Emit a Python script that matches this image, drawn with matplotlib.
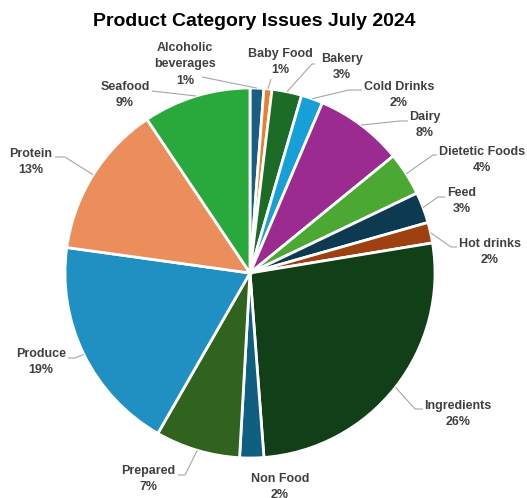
import numpy as np
import matplotlib
matplotlib.use('Agg')
import matplotlib.pyplot as plt

# issue share per product category, July 2024 (percent)
categories = ['Alcoholic\nbeverages', 'Baby Food', 'Bakery', 'Cold Drinks', 'Dairy',
              'Dietetic Foods', 'Feed', 'Hot drinks', 'Ingredients', 'Non Food',
              'Prepared', 'Produce', 'Protein', 'Seafood']
shares = [1.2, 0.7, 2.6, 1.9, 7.7, 3.8, 2.7, 1.8, 26.4, 2.1, 7.4, 18.9, 13.4, 9.4]
colors = ['#1b5e83', '#ed7d31', '#1c6b27', '#17a0d8', '#9c2b91', '#4ba833', '#0d3a50',
          '#9e4012', '#113f17', '#0e5f80', '#30631e', '#2090c3', '#ec8d5c', '#29a83b']

# label placement in pixels (text centre, line tail, line elbow); None = no leader
W, H = 527, 498
CX, CY, R = 250, 273, 185
label_xy = [(185, 64), (280, 62), (342, 67), (399, 95), (425, 125), (482, 160),
            (462, 201), (490, 252), (458, 414), (280, 487), (148, 479), (41, 362),
            (31, 162), (125, 95)]
tails = [(202, 77), (271, 79), (315, 64), (362, 90), (408, 121), (437, 155),
         (445, 197), (457, 247), (423, 409), None, (178, 475), (68, 358),
         (55, 157), (152, 91)]
elbows = [(202, 77), (271, 79), (312, 64), (349, 90), (400, 121), (433, 155),
          (438, 197), (451, 247), (415, 409), None, (185, 475), (75, 358),
          (65, 157), (152, 91)]


def px2data(p):
    return (p[0] - CX) / R, (CY - p[1]) / R


fig = plt.figure(figsize=(W / 100, H / 100), dpi=100)
ax = fig.add_axes([(CX - R) / W, (H - CY - R) / H, 2 * R / W, 2 * R / H])

wedges, _ = ax.pie(shares, colors=colors, startangle=90, counterclock=False,
                   wedgeprops=dict(edgecolor='white', linewidth=2))
ax.set_xlim(-1, 1)
ax.set_ylim(-1, 1)
ax.set_aspect('equal')

total = sum(shares)
for w, name, v, pos, tail, elbow in zip(wedges, categories, shares, label_xy, tails, elbows):
    tx, ty = px2data(pos)
    ax.text(tx, ty, f'{name}\n{v / total * 100:.0f}%', ha='center', va='center',
            fontsize=9, fontweight='bold', color='#404040', family='Liberation Sans',
            linespacing=1.5, clip_on=False)
    if tail is None:
        continue
    mid = np.deg2rad((w.theta1 + w.theta2) / 2)
    ex, ey = w.r * np.cos(mid), w.r * np.sin(mid)
    bx, by = px2data(elbow)
    lx, ly = px2data(tail)
    ax.plot([ex, bx, lx], [ey, by, ly], color='#a6a6a6', lw=0.8, clip_on=False,
            solid_capstyle='butt')

fig.text(254 / W, 1 - 21 / H, 'Product Category Issues July 2024', ha='center',
         va='center', fontsize=14, fontweight='bold', color='black',
         family='Liberation Sans')

fig.savefig('out.png', dpi=100)
